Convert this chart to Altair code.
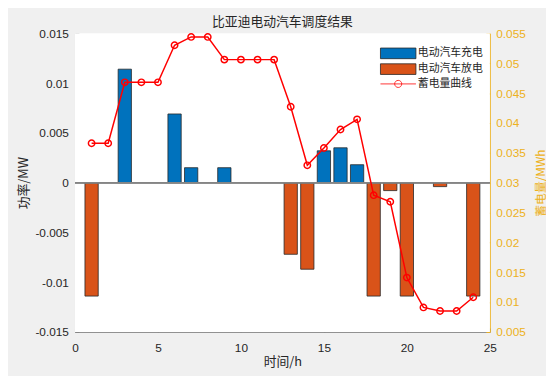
import altair as alt
import pandas as pd

# ---- data ----
hours = list(range(1, 25))
charge = [0, 0, 0.0114, 0, 0, 0.0069, 0.0015, 0, 0.0015, 0, 0, 0,
          0, 0, 0.0032, 0.0035, 0.0018, 0, 0, 0, 0, 0, 0, 0]
discharge = [-0.0114, 0, 0, 0, 0, 0, 0, 0, 0, 0, 0, 0,
             -0.0072, -0.0087, 0, 0, 0, -0.0114, -0.0008, -0.0114, 0, -0.0004, 0, -0.0114]
energy = [0.0366, 0.0366, 0.0468, 0.0468, 0.0468, 0.0530, 0.0544, 0.0544,
          0.0506, 0.0506, 0.0506, 0.0506, 0.0427, 0.0329, 0.0358, 0.0389,
          0.0406, 0.0279, 0.0268, 0.0141, 0.0091, 0.0085, 0.0085, 0.0108]
series_names = ["电动汽车充电", "电动汽车放电", "蓄电量曲线"]
x_ticks = [0, 5, 10, 15, 20, 25]
left_ticks = [-0.015, -0.01, -0.005, 0, 0.005, 0.01, 0.015]
right_ticks = [0.005, 0.01, 0.015, 0.02, 0.025, 0.03, 0.035, 0.04, 0.045, 0.05, 0.055]
x_range = [0, 25]
left_range = [-0.015, 0.015]
right_range = [0.005, 0.055]

rows = []
for h, c, d in zip(hours, charge, discharge):
    if c != 0:
        rows.append({"hour": h, "series": series_names[0], "power": c})
    if d != 0:
        rows.append({"hour": h, "series": series_names[1], "power": d})
bars_df = pd.DataFrame(rows)
line_df = pd.DataFrame({"hour": hours, "energy": energy})
legend_df = pd.DataFrame({"series": series_names})

# ---- styles ----
BLUE, ORANGE, RED, GOLD = "#0072BD", "#D95319", "#FF0000", "#EDB120"
AX, TXT = "#858585", "#262626"
CJK, LAT = "Noto Sans CJK SC", "Liberation Sans"
fmt = "replace(format(datum.value, '.3~f'), '\u2212', '-')"
inside = alt.ExprRef(expr="-4")

x_scale = alt.Scale(domain=x_range, nice=False, zero=False)
x_axis = alt.Axis(values=x_ticks, format="d", grid=False, tickSize=inside,
                  domainColor=AX, tickColor=AX, labelColor=TXT, labelFont=LAT,
                  labelFontSize=12, labelPadding=15, labelFlush=False,
                  title="时间/h", titleFont=CJK, titleFontSize=13,
                  titleFontWeight="normal", titleColor=TXT, titleX=210.5,
                  titleY=30.5, titleBaseline="middle", titleAlign="center")

left_axis = alt.Axis(values=left_ticks, labelExpr=fmt, grid=False, tickSize=inside,
                     domainColor=AX, tickColor=AX, labelColor=TXT, labelFont=LAT,
                     labelFontSize=12, labelPadding=10.7, labelFlush=False,
                     title="功率/MW", titleFont=CJK, titleFontSize=13,
                     titleFontWeight="normal", titleColor=TXT, titleAngle=270,
                     titleX=-52, titleY=151.5, titleBaseline="middle", titleAlign="center")

right_axis = alt.Axis(orient="right", values=right_ticks, labelExpr=fmt, grid=False,
                      tickSize=inside, domainColor=GOLD, tickColor=GOLD, labelColor=GOLD,
                      labelFont=LAT, labelFontSize=12, labelPadding=10, labelFlush=False,
                      title="蓄电量/MWh", titleFont=CJK, titleFontSize=12,
                      titleFontWeight="normal", titleColor=GOLD, titleAngle=270,
                      titleX=51, titleY=151.5, titleBaseline="middle", titleAlign="center")

rect_path = "M-3,-0.9H3V0.9H-3Z"
line_path = "M-3,0H3M0.6,0A0.6,0.6 0 1,1 -0.6,0A0.6,0.6 0 1,1 0.6,0"
legend = alt.Legend(
    title=None, orient="none", legendX=310, legendY=13.8, padding=0,
    symbolSize=144, symbolOffset=11.5, labelOffset=13.4, rowPadding=1,
    labelFont=CJK, labelFontSize=11, labelColor=TXT, symbolOpacity=1,
)

y_left = alt.Scale(domain=left_range, nice=False, zero=False)
panel_df = pd.DataFrame({"x0": [x_range[0]], "x1": [x_range[1]],
                         "y0": [left_range[0]], "y1": [left_range[1]]})
panel = alt.Chart(panel_df).mark_rect(fill="white", strokeWidth=0).encode(
    x=alt.X("x0:Q", scale=x_scale, axis=x_axis), x2="x1:Q",
    y=alt.Y("y0:Q", scale=y_left, axis=left_axis), y2="y1:Q",
)
bars = alt.Chart(bars_df).transform_calculate(
    x1="datum.hour - 0.4", x2="datum.hour + 0.4"
).mark_bar(stroke=TXT, strokeWidth=0.8).encode(
    x=alt.X("x1:Q", scale=x_scale, axis=x_axis),
    x2="x2:Q",
    y=alt.Y("power:Q", scale=y_left, axis=left_axis),
    y2=alt.datum(0),
    color=alt.Color("series:N", scale=alt.Scale(domain=series_names[:2], range=[BLUE, ORANGE]),
                    legend=None),
)
baseline = alt.Chart(bars_df).mark_rule(color=AX, strokeWidth=1).encode(
    y=alt.datum(0)
)
legend_layer = alt.Chart(legend_df).transform_filter("false").mark_point(
    filled=True, size=144, opacity=1
).encode(
    fill=alt.Fill("series:N", scale=alt.Scale(domain=series_names, range=[BLUE, ORANGE, "transparent"]), legend=legend),
    stroke=alt.Stroke("series:N", scale=alt.Scale(domain=series_names, range=[TXT, TXT, RED]), legend=legend),
    shape=alt.Shape("series:N", scale=alt.Scale(domain=series_names, range=[rect_path, rect_path, line_path]), legend=legend),
    strokeWidth=alt.StrokeWidth("series:N", scale=alt.Scale(domain=series_names, range=[0.8, 0.8, 1.5]), legend=legend),
)
left = alt.layer(panel, bars, baseline, legend_layer)

y_right = alt.Scale(domain=right_range, nice=False, zero=False)
line = alt.Chart(line_df).mark_line(color=RED, strokeWidth=1.5).encode(
    x=alt.X("hour:Q", scale=x_scale, axis=x_axis),
    y=alt.Y("energy:Q", scale=y_right, axis=right_axis),
)
pts = alt.Chart(line_df).mark_point(shape="circle", size=42, filled=False,
                                    color=RED, strokeWidth=1.5, opacity=1).encode(
    x=alt.X("hour:Q", scale=x_scale, axis=x_axis),
    y=alt.Y("energy:Q", scale=y_right, axis=right_axis),
)
right = alt.layer(line, pts)

chart = alt.layer(left, right).resolve_scale(y="independent").properties(
    width=421, height=303,
    padding={"left": 68, "top": 23, "right": 57, "bottom": 42},
    autosize=alt.AutoSizeParams(type="none"),
    background="#f0f0f0",
    title=alt.TitleParams("比亚迪电动汽车调度结果", font=CJK, fontSize=13,
                          fontWeight="normal", color=TXT, anchor="middle",
                          frame="group", offset=4, dy=6),
).configure_view(stroke=None)

chart.save("out.html", embed_options={"renderer": "svg", "actions": False})
